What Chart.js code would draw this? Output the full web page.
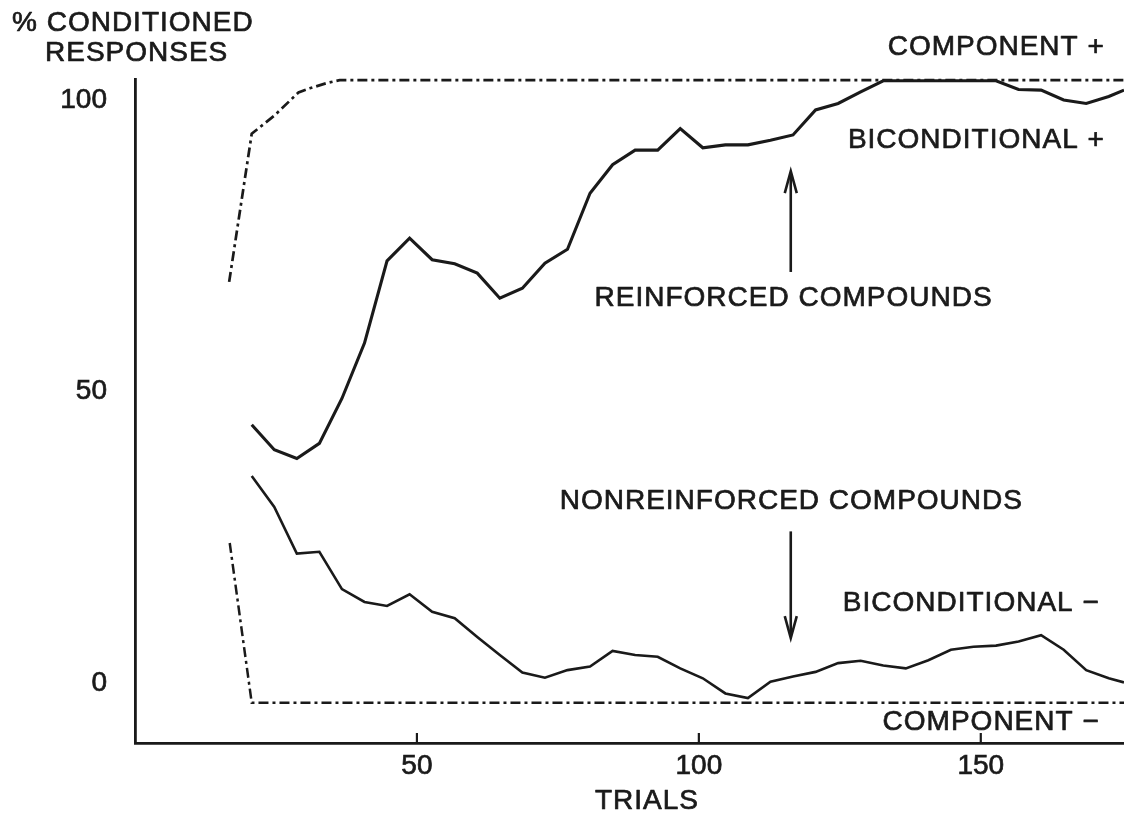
<!DOCTYPE html>
<html>
<head>
<meta charset="utf-8">
<script src="https://cdn.jsdelivr.net/npm/chart.js@4.4.1/dist/chart.umd.min.js"></script>
<style>
  html, body { margin: 0; padding: 0; background: #ffffff; }
  #wrap { width: 1124px; height: 816px; position: relative; }
</style>
</head>
<body>
<div id="wrap"><canvas id="c" width="1124" height="816"></canvas></div>
<script>
// ---- data ----
const bicondTrials = [20.7, 24.7, 28.7, 32.7, 36.7, 40.7, 44.7, 48.7, 52.7, 56.7,
                      60.7, 64.7, 68.7, 72.7, 76.7, 80.7, 84.7, 88.7, 92.7, 96.7,
                      100.7, 104.7, 108.7, 112.7, 116.7, 120.7, 124.7, 128.7, 132.7, 136.7,
                      140.7, 144.7, 148.7, 152.7, 156.7, 160.7, 164.7, 168.7, 172.7, 175.4];
const bicondPlus   = [44.3, 40.0, 38.5, 41.1, 48.8, 58.3, 72.4, 76.3, 72.6, 71.9,
                      70.3, 66.0, 67.7, 72.0, 74.4, 84.0, 88.9, 91.4, 91.4, 95.1,
                      91.8, 92.3, 92.3, 93.1, 94.0, 98.3, 99.4, 101.4, 103.3, 103.3,
                      103.3, 103.3, 103.3, 103.3, 101.8, 101.7, 100.0, 99.4, 100.6, 101.7];
const bicondMinus  = [35.5, 30.2, 22.2, 22.5, 16.1, 13.9, 13.2, 15.2, 12.2, 11.1,
                      7.9, 4.8, 1.8, 0.9, 2.2, 2.8, 5.5, 4.8, 4.5, 2.5,
                      0.8, -1.8, -2.6, 0.2, 1.1, 1.9, 3.4, 3.8, 3.0, 2.5,
                      3.9, 5.7, 6.2, 6.4, 7.1, 8.2, 5.7, 2.2, 0.8, 0.1];
const compPlusTrials  = [16.7, 20.7, 24.8, 29.0, 31.0, 34.0, 36.3, 175.4];
const compPlus        = [68.8, 94.2, 97.4, 101.3, 102.0, 102.9, 103.4, 103.4];
const compMinusTrials = [16.8, 20.7, 175.4];
const compMinus       = [24.0, -3.4, -3.4];
const xTicks = [50, 100, 150];
const yTicks = [0, 50, 100];

const yTitle = ['% CONDITIONED', 'RESPONSES'];
const xTitle = 'TRIALS';
const labels = [
  { text: 'COMPONENT +',             x: 172.0, y: 109.1, align: 'right' },
  { text: 'BICONDITIONAL +',         x: 172.0, y: 93.1,  align: 'right' },
  { text: 'REINFORCED COMPOUNDS',    x: 116.8, y: 65.9,  align: 'center' },
  { text: 'NONREINFORCED COMPOUNDS', x: 116.4, y: 31.2,  align: 'center' },
  { text: 'BICONDITIONAL \u2212',    x: 171.1, y: 13.7,  align: 'right' },
  { text: 'COMPONENT \u2212',        x: 171.1, y: -6.7,  align: 'right' }
];
const arrows = [
  { x: 116.3, from: 70.5, to: 87.8 },
  { x: 116.3, from: 26.0, to: 7.7 }
];

const pts = (xs, ys) => xs.map((x, i) => ({ x: x, y: ys[i] }));
const INK = '#1a1a1a';
const FONT = '"Liberation Sans", Arial, sans-serif';

const annot = {
  id: 'annot',
  afterDraw(chart) {
    const ctx = chart.ctx;
    const xs = chart.scales.x, ys = chart.scales.y;
    ctx.save();
    ctx.fillStyle = INK;
    ctx.strokeStyle = INK;
    ctx.font = '28px ' + FONT;
    ctx.textBaseline = 'middle';
    ctx.lineJoin = 'round';
    try { ctx.letterSpacing = '1px'; } catch (e) {}
    const txt = (s, x, y) => { ctx.lineWidth = 0.7; ctx.fillText(s, x, y); ctx.strokeText(s, x, y); };
    labels.forEach(l => {
      ctx.textAlign = l.align;
      txt(l.text, xs.getPixelForValue(l.x), ys.getPixelForValue(l.y));
    });
    // axis titles
    ctx.textAlign = 'left';
    txt(yTitle[0], 12, 23);
    txt(yTitle[1], 45, 53);
    ctx.textAlign = 'center';
    txt(xTitle, 647, 801);
    // arrows
    ctx.lineWidth = 2.6;
    ctx.lineCap = 'butt';
    ctx.lineJoin = 'miter';
    arrows.forEach(a => {
      const px = xs.getPixelForValue(a.x);
      const y1 = ys.getPixelForValue(a.from);
      const y2 = ys.getPixelForValue(a.to);
      const dir = y2 < y1 ? 1 : -1;
      ctx.beginPath();
      ctx.moveTo(px, y1);
      ctx.lineTo(px, y2 + dir * 4);
      ctx.stroke();
      ctx.beginPath();
      ctx.moveTo(px - 6, y2 + dir * 22);
      ctx.lineTo(px, y2);
      ctx.lineTo(px + 6, y2 + dir * 22);
      ctx.stroke();
    });
    // inward tick marks on x axis
    ctx.lineWidth = 2.2;
    const base = chart.chartArea.bottom;
    xTicks.forEach(t => {
      const px = xs.getPixelForValue(t);
      ctx.beginPath();
      ctx.moveTo(px, base);
      ctx.lineTo(px, base - 10);
      ctx.stroke();
    });
    ctx.restore();
  }
};

const tickOpts = (pad) => ({
  color: INK, font: { family: FONT, size: 28 }, padding: pad, maxRotation: 0,
  textStrokeColor: INK, textStrokeWidth: 0.7
});

new Chart(document.getElementById('c'), {
  type: 'line',
  data: {
    datasets: [
      { label: 'Component +', data: pts(compPlusTrials, compPlus),
        borderColor: INK, borderWidth: 2.7, borderDash: [10, 4, 3, 4], pointRadius: 0, tension: 0, clip: false },
      { label: 'Component \u2212', data: pts(compMinusTrials, compMinus),
        borderColor: INK, borderWidth: 2.5, borderDash: [10, 4, 3, 4], pointRadius: 0, tension: 0, clip: false },
      { label: 'Biconditional +', data: pts(bicondTrials, bicondPlus),
        borderColor: INK, borderWidth: 3.1, pointRadius: 0, tension: 0, clip: false },
      { label: 'Biconditional \u2212', data: pts(bicondTrials, bicondMinus),
        borderColor: INK, borderWidth: 2.6, pointRadius: 0, tension: 0, clip: false }
    ]
  },
  options: {
    responsive: false,
    animation: false,
    devicePixelRatio: 1,
    layout: { padding: { top: 79, right: 0, bottom: 0, left: 0 } },
    plugins: { legend: { display: false }, tooltip: { enabled: false } },
    scales: {
      x: {
        type: 'linear', min: 0, max: 175.4,
        grid: { display: false, drawTicks: false },
        border: { display: true, color: INK, width: 2.8 },
        ticks: tickOpts(6),
        afterBuildTicks: s => { s.ticks = xTicks.map(v => ({ value: v })); },
        afterFit: s => { s.height = 73; }
      },
      y: {
        type: 'linear', min: -10.3, max: 103.6,
        grid: { display: false, drawTicks: false },
        border: { display: true, color: INK, width: 2.8 },
        ticks: tickOpts(28),
        afterBuildTicks: s => { s.ticks = yTicks.map(v => ({ value: v })); },
        afterFit: s => { s.width = 135; }
      }
    }
  },
  plugins: [annot]
});
</script>
</body>
</html>
